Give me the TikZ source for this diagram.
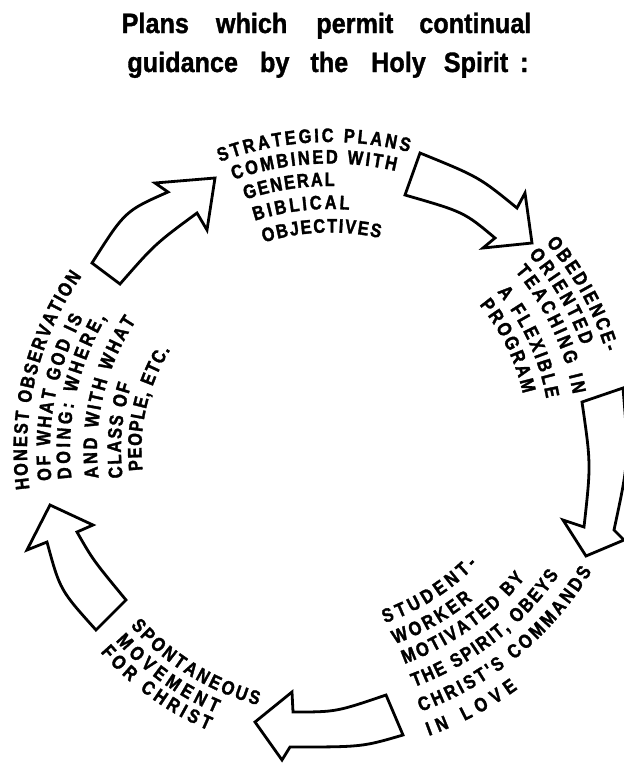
\documentclass[tikz,border=0pt]{standalone}
\usepackage{fontspec}
\setmainfont{Liberation Sans}
\newfontfamily\titlefam{Liberation Sans}[FakeStretch=0.9, BoldFeatures={FakeBold=1.2}]
\newfontfamily\lblfam{Liberation Sans}[FakeStretch=0.84, BoldFeatures={FakeBold=1.6}]
\newcommand\lblfont{\lblfam\bfseries\fontsize{19.5}{21}\selectfont}
\usetikzlibrary{decorations.text}

\tikzset{
  bigarrow/.style={draw=black, fill=white, line width=2.8pt, line join=miter},
  titleline/.style={font=\titlefam\bfseries\fontsize{28}{30}\selectfont,
                    anchor=base, inner sep=0pt},
}

% one line of lettering set along an arc:
% centre x, centre y, radius, start angle, end angle, text
\newcommand\arcline[6]{%
  \path[shift={(#1,#2)}, decorate,
        decoration={text along path, text align={fit to path},
                    text={|\lblfont|#6}}]
    (#4:#3) arc[start angle=#4, end angle=#5, radius=#3];}

\begin{document}
\begin{tikzpicture}[x=1pt, y=-1pt]
\useasboundingbox (0,0) rectangle (624,764);
\fill[white] (0,0) rectangle (624,764);

% heading
\node[titleline] (title1) at (326.5,33)
  {Plans\hspace{27pt}which\hspace{29pt}permit\hspace{26pt}continual};
\node[titleline] (title2) at (328,72)
  {guidance\hspace{22pt}by\hspace{21pt}the\hspace{23pt}Holy\hspace{18pt}Spirit\hspace{12pt}:};

% the five curved block arrows of the cycle
\draw[bigarrow] (92,263) -- (120,284) .. controls (155,244) .. (197,213)
  -- (207,230) -- (215,178) -- (155,183) -- (168,192)
  .. controls (125,211) .. (92,263) -- cycle;
\draw[bigarrow] (420,153) .. controls (479,177) .. (517,208)
  -- (525,193) -- (532,243) -- (483,248) -- (495,238)
  .. controls (464,212) .. (405,195) -- cycle;
\draw[bigarrow] (582,402) -- (623,388) .. controls (629,460) .. (614,530)
  -- (624,540) -- (586,556) -- (563,520) -- (584,527)
  .. controls (591,464) .. (582,402) -- cycle;
\draw[bigarrow] (386,695) .. controls (336,712) .. (293,712)
  -- (292,692) -- (255,722) -- (282,760) -- (290,747)
  .. controls (362,747) .. (403,735) -- cycle;
\draw[bigarrow] (50,505) -- (27,550) -- (47,542) .. controls (60,590) .. (96,630)
  -- (126,600) .. controls (93,560) .. (77,532) -- (93,525) -- cycle;

% top
\arcline{330}{455}{313}{-110.6}{-75.4}{STRATEGIC PLANS}
\arcline{330}{455}{291.5}{-109.3}{-77.0}{COMBINED WITH}
\arcline{330}{455}{269}{-108.3}{-89.0}{GENERAL}
\arcline{330}{455}{246}{-107.8}{-85.5}{BIBLICAL}
\arcline{330}{455}{222.5}{-107.3}{-77.0}{OBJECTIVES}

% right
\arcline{316}{440}{303}{-40.6}{-16.9}{OBEDIENCE-}
\arcline{316}{440}{282}{-41.1}{-19.6}{ORIENTED}
\arcline{316}{440}{261}{-40.3}{-10.1}{TEACHING IN}
\arcline{316}{440}{234}{-39.3}{-10.2}{A FLEXIBLE}
\arcline{316}{440}{212}{-39.6}{-12.6}{PROGRAM}

% lower right
\arcline{308}{400}{236}{71.0}{44.1}{STUDENT-}
\arcline{308}{400}{259}{70.4}{50.5}{WORKER}
\arcline{308}{400}{281}{69.9}{39.4}{MOTIVATED BY}
\arcline{308}{400}{306}{69.7}{34.9}{THE SPIRIT, OBEYS}
\arcline{308}{400}{331.5}{70.1}{31.1}{CHRIST'S COMMANDS}
\arcline{308}{400}{357}{70.2}{54.0}{IN LOVE}

% left
\arcline{330}{450}{303}{172.6}{215.0}{HONEST OBSERVATION}
\arcline{330}{450}{280}{173.8}{208.2}{OF WHAT GOD IS}
\arcline{330}{450}{260}{173.7}{210.6}{DOING: WHERE,}
\arcline{330}{450}{233}{173.1}{213.6}{AND WITH WHAT}
\arcline{330}{450}{209}{172.4}{198.2}{CLASS OF}
\arcline{330}{450}{188.5}{173.8}{212.1}{PEOPLE, ETC.}

% lower left
\arcline{325}{455}{259}{138.7}{105.0}{SPONTANEOUS}
\arcline{325}{455}{280}{138.4}{112.9}{MOVEMENT}
\arcline{325}{455}{299}{138.7}{113.0}{FOR CHRIST}
\end{tikzpicture}
\end{document}
